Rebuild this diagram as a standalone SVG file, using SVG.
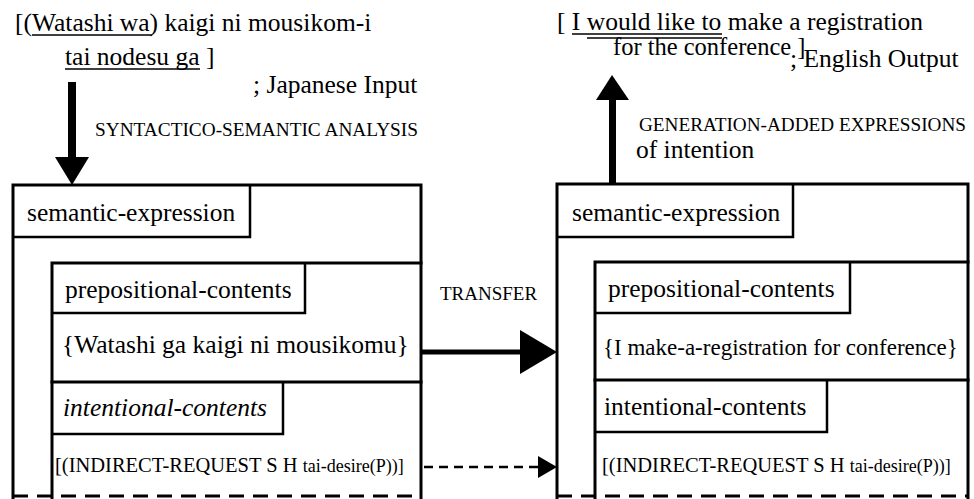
<svg xmlns="http://www.w3.org/2000/svg" width="974" height="499" viewBox="0 0 974 499">
  <defs>
    <style>
      .t { font-family: "Liberation Serif", "Times New Roman", serif; fill: #000; }
      .big { font-size: 25.5px; }
      .it { font-style: italic; }
      .cap { font-size: 19px; }
      .ln { stroke: #000; stroke-width: 3; fill: none; stroke-linecap: square; }
      .lb { stroke: #000; stroke-width: 2.5; fill: none; }
      .edge { stroke: #000; stroke-width: 3; fill: none; stroke-dasharray: 15 9; }
      .ul { stroke: #000; stroke-width: 1.5; }
    </style>
  </defs>
  <rect x="0" y="0" width="974" height="499" fill="#fff"/>

  <!-- Japanese input sentence -->
  <g id="japanese-input">
    <text class="t big" x="15" y="31">[(Watashi wa) kaigi ni mousikom-i</text>
    <line class="ul" x1="32" y1="35" x2="152" y2="35"/>
    <text class="t big" x="65" y="65">tai nodesu ga ]</text>
    <line class="ul" x1="65" y1="69" x2="200" y2="69"/>
    <text class="t big" x="253" y="93">; Japanese Input</text>
  </g>

  <!-- English output sentence -->
  <g id="english-output">
    <text class="t big" x="557" y="30">[ I would like to make a registration</text>
    <line class="ul" x1="572" y1="34" x2="722" y2="34"/>
    <line class="ul" x1="587" y1="38" x2="722" y2="38"/>
    <text class="t" x="613" y="55" font-size="24.5">for the conference ]</text>
    <text class="t" x="790" y="67" font-size="25.5">; English Output</text>
  </g>

  <!-- source semantic expression -->
  <g id="source-expression">
    <path class="ln" d="M13 499 V185 H421 V499"/>
    <path class="lb" d="M13 237 H250 V185"/>
    <text class="t big" x="27" y="221">semantic-expression</text>
    <path class="ln" d="M52 499 V263 H421"/>
    <path class="lb" d="M52 313 H305 V263"/>
    <text class="t big" x="65" y="298">prepositional-contents</text>
    <text class="t big" x="62" y="353">{Watashi ga kaigi ni mousikomu}</text>
    <path class="ln" d="M52 382 H421"/>
    <path class="lb" d="M52 434 H283 V382"/>
    <text class="t big it" x="63" y="416">intentional-contents</text>
    <text class="t" x="55" y="472" font-size="20.5">[(INDIRECT-REQUEST S H <tspan font-size="18">tai-desire(P))]</tspan></text>
    <line class="edge" x1="13" y1="496" x2="421" y2="496"/>
  </g>

  <!-- target semantic expression -->
  <g id="target-expression">
    <path class="ln" d="M557 499 V184 H968 V499"/>
    <path class="lb" d="M557 237 H793 V184"/>
    <text class="t big" x="572" y="221">semantic-expression</text>
    <path class="ln" d="M595 499 V262 H968"/>
    <path class="lb" d="M595 313 H850 V262"/>
    <text class="t big" x="608" y="297">prepositional-contents</text>
    <text class="t" x="603" y="355" font-size="23">{I make-a-registration for conference}</text>
    <path class="ln" d="M595 380 H968"/>
    <path class="lb" d="M595 432 H827 V380"/>
    <text class="t big" x="604" y="415">intentional-contents</text>
    <text class="t" x="602" y="472" font-size="20.5">[(INDIRECT-REQUEST S H <tspan font-size="18">tai-desire(P))]</tspan></text>
    <line class="edge" x1="557" y1="496" x2="968" y2="496"/>
  </g>

  <!-- connectors -->
  <g id="connectors">
    <!-- analysis -->
    <rect x="68" y="82" width="8" height="77" fill="#000"/>
    <polygon points="55,157 89,157 72,185" fill="#000"/>
    <text class="t cap" x="95" y="136" textLength="323" lengthAdjust="spacingAndGlyphs">SYNTACTICO-SEMANTIC ANALYSIS</text>
    <!-- generation -->
    <rect x="609" y="98" width="7" height="86" fill="#000"/>
    <polygon points="596,100 629,100 612,75" fill="#000"/>
    <text class="t cap" x="639" y="131" textLength="327" lengthAdjust="spacingAndGlyphs">GENERATION-ADDED EXPRESSIONS</text>
    <text class="t big" x="636" y="158">of intention</text>
    <!-- transfer -->
    <line x1="421" y1="352" x2="524" y2="352" stroke="#000" stroke-width="5"/>
    <polygon points="520,330 520,374 557,352" fill="#000"/>
    <text class="t cap" x="440" y="300">TRANSFER</text>
    <!-- intention carried over -->
    <line x1="424" y1="467" x2="540" y2="467" stroke="#000" stroke-width="2.5" stroke-dasharray="9 6"/>
    <polygon points="538,456 538,478 557,467" fill="#000"/>
  </g>
</svg>
